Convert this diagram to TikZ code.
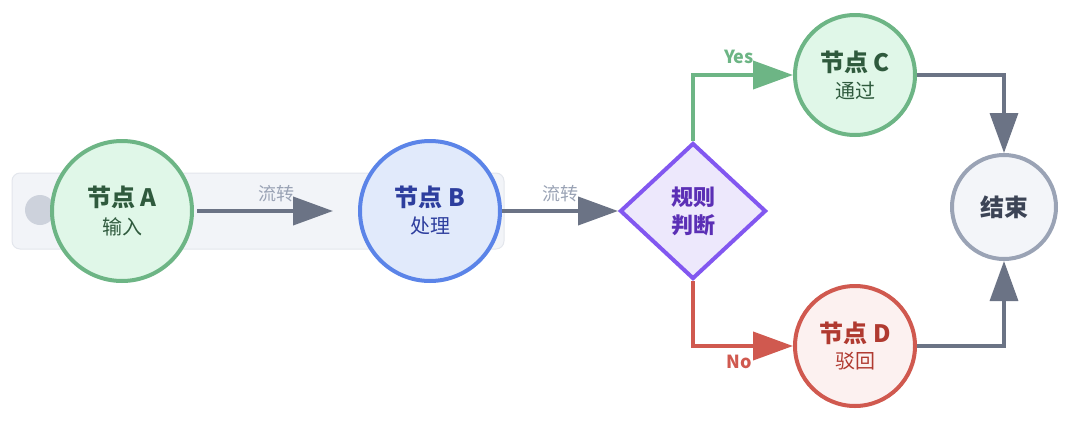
\documentclass[tikz,border=0pt]{standalone}
\usepackage{fontspec}
\setmainfont{Noto Sans CJK SC}
\usepackage{tikz}
\usetikzlibrary{shapes.geometric}
\usetikzlibrary{arrows.meta}

\definecolor{flowgray}{HTML}{6B7385}
\definecolor{labelgray}{HTML}{9AA3B5}
\definecolor{okgreen}{HTML}{6DB585}
\definecolor{okfill}{HTML}{E0F7E8}
\definecolor{oktext}{HTML}{2F5A3D}
\definecolor{procblue}{HTML}{5B84E8}
\definecolor{procfill}{HTML}{E1EAFB}
\definecolor{proctext}{HTML}{2D3E9E}
\definecolor{rulepurple}{HTML}{8257F0}
\definecolor{rulefill}{HTML}{EDE8FC}
\definecolor{ruletext}{HTML}{5B2FB5}
\definecolor{badred}{HTML}{D0594F}
\definecolor{badfill}{HTML}{FCF1F0}
\definecolor{badtext}{HTML}{B03A30}
\definecolor{endfill}{HTML}{F3F5F9}
\definecolor{endtext}{HTML}{3C4456}
\definecolor{trackfill}{HTML}{F2F4F8}
\definecolor{trackline}{HTML}{E3E6EC}
\definecolor{knobfill}{HTML}{CDD2DC}

\newcommand{\steptext}[2]{{\bfseries\fontsize{24}{30}\selectfont #1}\\[7pt]{\fontsize{20}{26}\selectfont #2}}

\begin{document}
\begin{tikzpicture}[x=1pt, y=-1pt,
  stepnode/.style={circle, line width=4pt, align=center, inner sep=0pt},
  flow/.style={line width=4pt, flowgray, -{Triangle[length=40pt, width=28pt]}},
  flowlabel/.style={font=\fontsize{18}{18}\selectfont, labelgray},
  branchlabel/.style={font=\bfseries\fontsize{18}{18}\selectfont}]
  \useasboundingbox (0,0) rectangle (1080,421);

  % track behind A and B
  \draw[trackline, fill=trackfill, line width=1pt, rounded corners=8pt]
    (12,173) rectangle (504,249);
  \fill[knobfill] (40,210) circle (15);

  % nodes
  \node[stepnode, draw=okgreen, fill=okfill, text=oktext, minimum size=140pt]
    (nodeA) at (122,211) {\steptext{节点 A}{输入}};
  \node[stepnode, draw=procblue, fill=procfill, text=proctext, minimum size=140pt]
    (nodeB) at (430,211) {\steptext{节点 B}{处理}};
  \node[diamond, line width=4pt, draw=rulepurple, fill=rulefill, text=ruletext,
    minimum width=146pt, minimum height=136pt, align=center, inner sep=0pt,
    font=\bfseries\fontsize{22}{28}\selectfont]
    (rule) at (693,211) {规则\\判断};
  \node[stepnode, draw=okgreen, fill=okfill, text=oktext, minimum size=120pt]
    (nodeC) at (855,75) {\steptext{节点 C}{通过}};
  \node[stepnode, draw=badred, fill=badfill, text=badtext, minimum size=120pt]
    (nodeD) at (855,346) {\steptext{节点 D}{驳回}};
  \node[stepnode, draw=labelgray, fill=endfill, text=endtext, minimum size=104pt,
    font=\bfseries\fontsize{24}{30}\selectfont]
    (finish) at (1004,207) {结束};

  % connectors
  \draw[flow, shorten <=3pt, shorten >=25pt] (nodeA) -- node[flowlabel, above=4pt] {流转} (nodeB);
  \draw[flow] (nodeB) -- node[flowlabel, above=4pt] {流转} (rule);
  \draw[flow, okgreen] (rule.north) |- node[pos=0.73, branchlabel, okgreen, above=6pt] {Yes} (nodeC);
  \draw[flow, badred] (rule.south) |- node[pos=0.73, branchlabel, badred, below=4pt] {No} (nodeD);
  \draw[flow, line width=3.5pt] (nodeC) -| (finish);
  \draw[flow, line width=3.5pt] (nodeD) -| (finish);
\end{tikzpicture}
\end{document}
